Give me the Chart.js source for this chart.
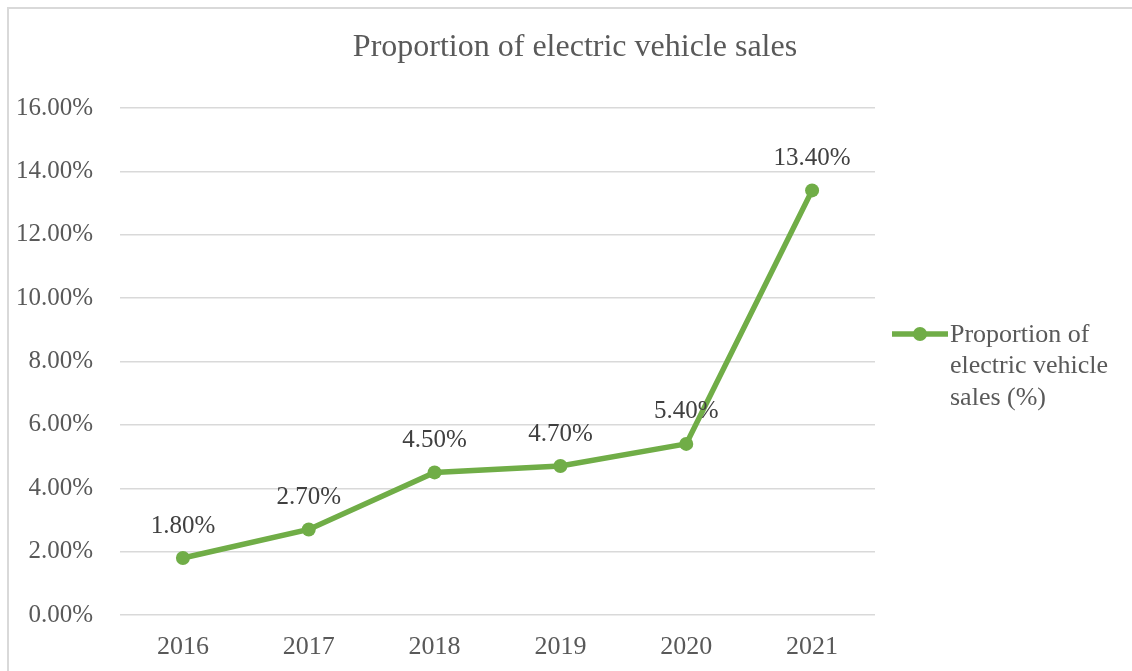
<!DOCTYPE html>
<html>
<head>
<meta charset="utf-8">
<script src="https://cdn.jsdelivr.net/npm/chart.js@4.4.0/dist/chart.umd.min.js"></script>
<style>
  html, body { margin: 0; padding: 0; background: #fff; }
  #wrap { position: relative; width: 1132px; height: 671px; overflow: hidden; }
  #frame { position: absolute; left: 7px; top: 7px; width: 1200px; height: 700px; border: 2px solid #d9d9d9; box-sizing: border-box; }
  canvas { position: absolute; left: 0; top: 0; }
</style>
</head>
<body>
<div id="wrap">
  <div id="frame"></div>
  <canvas id="evChart" width="1132" height="671"></canvas>
</div>
<script>
// === Datos ===
const years = ['2016', '2017', '2018', '2019', '2020', '2021'];
const evShare = [1.8, 2.7, 4.5, 4.7, 5.4, 13.4];
const seriesName = ['Proportion of', 'electric vehicle', 'sales (%)'];
const chartTitle = 'Proportion of electric vehicle sales';

const green = '#70ad47';
const serif = '"Times New Roman", "Liberation Serif", serif';

// etiquetas de datos, título y leyenda dibujados a mano
const extras = {
  id: 'extras',
  afterDatasetsDraw(chart) {
    const ctx = chart.ctx;
    const meta = chart.getDatasetMeta(0);
    ctx.save();
    ctx.font = '25px ' + serif;
    ctx.fillStyle = '#404040';
    ctx.textAlign = 'center';
    ctx.textBaseline = 'middle';
    meta.data.forEach((pt, i) => {
      ctx.fillText(evShare[i].toFixed(2) + '%', pt.x, pt.y - 32);
    });

    // título
    ctx.font = '32px ' + serif;
    ctx.fillStyle = '#595959';
    ctx.fillText(chartTitle, 575, 48);

    // leyenda
    ctx.strokeStyle = green;
    ctx.lineWidth = 5.5;
    ctx.beginPath();
    ctx.moveTo(892, 334);
    ctx.lineTo(948, 334);
    ctx.stroke();
    ctx.fillStyle = green;
    ctx.beginPath();
    ctx.arc(920, 334, 7, 0, Math.PI * 2);
    ctx.fill();
    ctx.font = '26px ' + serif;
    ctx.fillStyle = '#595959';
    ctx.textAlign = 'left';
    seriesName.forEach((line, i) => {
      ctx.fillText(line, 950, 335 + i * 31.5);
    });
    ctx.restore();
  }
};

new Chart(document.getElementById('evChart'), {
  type: 'line',
  data: {
    labels: years,
    datasets: [{
      label: seriesName.join(' '),
      data: evShare,
      borderColor: green,
      backgroundColor: green,
      borderWidth: 5.5,
      pointRadius: 7,
      pointHoverRadius: 7,
      pointBorderWidth: 0,
      tension: 0
    }]
  },
  options: {
    responsive: false,
    animation: false,
    layout: { padding: { left: 8, right: 257, top: 108, bottom: 0 } },
    plugins: {
      legend: { display: false },
      title: { display: false },
      tooltip: { enabled: false }
    },
    scales: {
      x: {
        offset: true,
        grid: { display: false, drawTicks: false },
        border: { display: false },
        ticks: { color: '#595959', font: { family: serif, size: 26 }, padding: 17 },
        afterFit(scale) { scale.height = 56; }
      },
      y: {
        min: 0,
        max: 16,
        grid: { color: '#d9d9d9', lineWidth: 1.5, drawTicks: false },
        border: { display: false },
        ticks: {
          stepSize: 2,
          color: '#595959',
          font: { family: serif, size: 25 },
          padding: 27,
          callback: v => v.toFixed(2) + '%'
        },
        afterFit(scale) { scale.width = 112; }
      }
    }
  },
  plugins: [extras]
});
</script>
</body>
</html>
